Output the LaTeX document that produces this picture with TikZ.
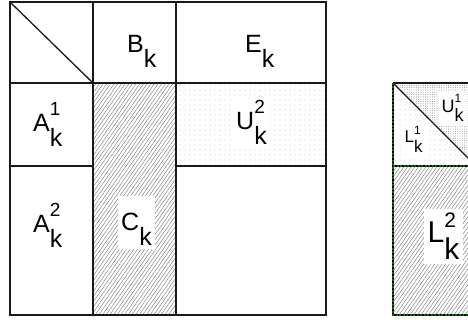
\documentclass[tikz,border=0pt]{standalone}
\usepackage{fontspec}
\setmainfont{Liberation Sans}
\usetikzlibrary{patterns.meta}
\definecolor{dkgreen}{RGB}{20,95,20}
% main, sup, sub, sup size, raise, lower
\newcommand{\mlab}[6]{#1\makebox[0pt][l]{\raisebox{#5}{\fontsize{#4}{#4}\selectfont #2}}\raisebox{-#6}{#3}}
\newcommand{\lab}[3]{\mlab{#1}{#2}{#3}{19}{16.5pt}{15pt}}
\begin{document}
\begin{tikzpicture}[x=1pt,y=-1pt,
  grid/.style={draw=black!90,line width=1.3pt},
  outer/.style={draw=black!90,line width=1.6pt},
  hatch/.style={pattern={Lines[angle=55,distance=3pt,line width=0.4pt]},pattern color=black!55},
  sdots/.style={pattern={Dots[distance=5pt,radius=0.45pt]},pattern color=black!55},
  ddots/.style={pattern={Dots[distance=2.3pt,radius=0.45pt]},pattern color=black!55},
  gline/.style={line width=1.1pt,draw=dkgreen,dash pattern=on 2pt off 1.5pt,preaction={draw=black,line width=1.1pt,solid}},
  lbl/.style={font=\fontsize{25}{25}\selectfont,inner sep=0pt,anchor=base west},
  wlbl/.style={lbl,fill=white,inner xsep=3pt,inner ysep=4pt},
  slbl/.style={fill=white,inner sep=3pt,anchor=base west},
  blbl/.style={font=\fontsize{30}{30}\selectfont,fill=white,inner sep=4pt,anchor=base west}]
\useasboundingbox (0,0) rectangle (468,320);
\clip (0,0) rectangle (468,320);
% left matrix fills
\fill[hatch] (93,83) rectangle (176,315);
\fill[sdots] (176,83) rectangle (326,166);
% grid
\draw[grid] (93,2) -- (93,315);
\draw[grid] (176,2) -- (176,315);
\draw[grid] (10,83) -- (326,83);
\draw[grid] (10,166) -- (93,166);
\draw[grid] (176,166) -- (326,166);
\draw[grid] (10,2) -- (93,83);
\draw[outer] (10,2) rectangle (326,315);
% labels
\node[lbl] (Bk) at (127,53) {\lab{B}{}{k}};
\node[lbl] (Ek) at (245,53) {\lab{E}{}{k}};
\node[lbl] (A1k) at (33,132) {\lab{A}{1}{k}};
\node[lbl] (A2k) at (33,233) {\lab{A}{2}{k}};
\node[wlbl] (U2k) at (233,130) {\lab{U}{2}{k}};
\node[wlbl] (Ck) at (118,230) {\lab{C}{\phantom{1}}{k}};
% right matrix
\fill[ddots] (393,83) -- (476,83) -- (476,166) -- cycle;
\fill[sdots] (393,83) -- (393,166) -- (476,166) -- cycle;
\fill[hatch] (393,166) rectangle (476,315);
\draw[grid] (393,83) -- (476,83);
\draw[grid] (393,83) -- (476,166);
\draw[gline] (393,83) -- (393,315) -- (476,315);
\draw[gline] (393,166) -- (476,166);
\node[slbl,font=\fontsize{18}{18}\selectfont] (U1k) at (438.5,113) {\mlab{U}{1}{k}{12}{10pt}{9pt}};
\node[slbl,font=\fontsize{17}{17}\selectfont] (L1k) at (401.5,143) {\mlab{L}{1}{k}{12}{8pt}{10pt}};
\node[blbl] (L2k) at (423.5,243) {\mlab{L}{2}{k}{21}{15pt}{17pt}};
\end{tikzpicture}
\end{document}
